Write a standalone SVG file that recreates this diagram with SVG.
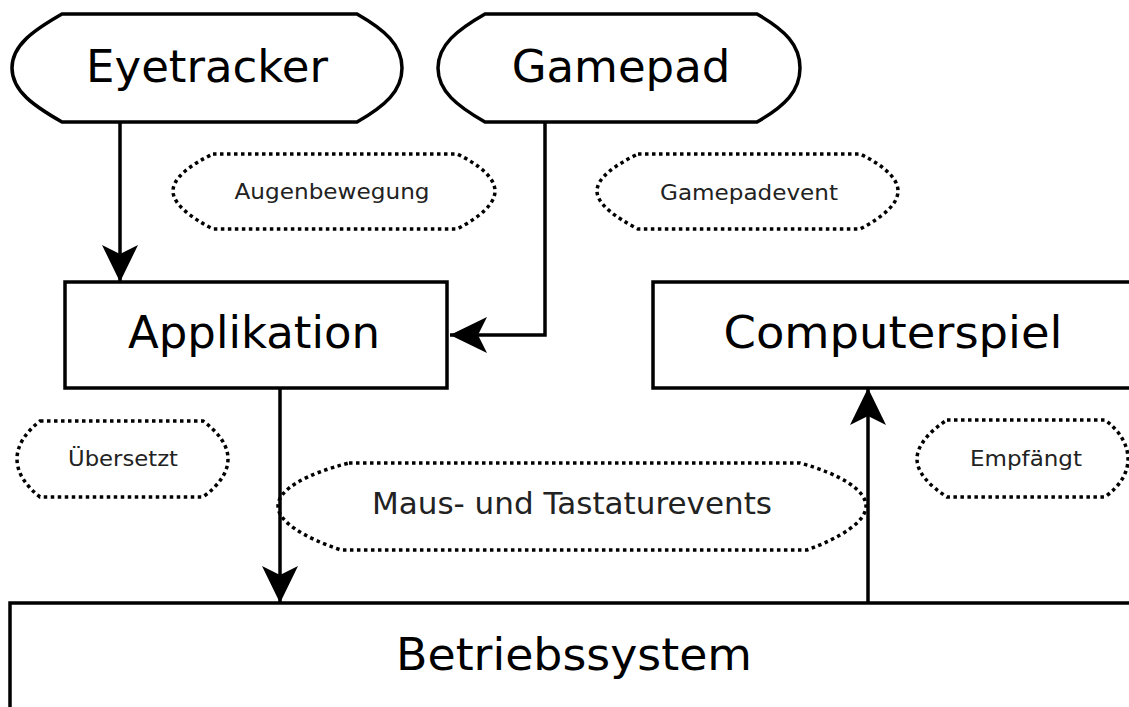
<svg xmlns="http://www.w3.org/2000/svg" width="1129" height="707" viewBox="0 0 1129 707">
  <style>
    .shape { fill: #fff; stroke: #000; stroke-width: 3.5; }
    .dotted { fill: none; stroke: #000; stroke-width: 3.5; stroke-dasharray: 3.5 3.5; }
    .big { font-family: "DejaVu Sans", sans-serif; font-size: 45px; fill: #000; text-anchor: middle; }
    .small { font-family: "DejaVu Sans", sans-serif; font-size: 22px; fill: #222; text-anchor: middle; }
    .mid { font-family: "DejaVu Sans", sans-serif; font-size: 30px; fill: #222; text-anchor: middle; }
    .conn { fill: none; stroke: #000; stroke-width: 3.5; }
  </style>
  <defs>
    <marker id="arrow" viewBox="-38 -20 40 40" markerWidth="40" markerHeight="40" refX="0" refY="0" orient="auto" markerUnits="userSpaceOnUse">
      <path d="M0,0 L-37,-18 L-28,0 L-37,18 Z" fill="#000"/>
    </marker>
  </defs>

  <rect width="1129" height="707" fill="#fff"/>

  <!-- Input devices -->
  <g id="eyetracker">
    <path class="shape" d="M62,14 L357,14 C385,30 402,45 402,68 C402,91 385,106 357,122 L62,122 C34,106 12,91 12,68 C12,45 34,30 62,14 Z"/>
    <text class="big" x="207" y="82">Eyetracker</text>
  </g>
  <g id="gamepad">
    <path class="shape" d="M485,14 L757,14 C785,30 800,45 800,68 C800,91 785,106 757,122 L485,122 C457,106 438,91 438,68 C438,45 457,30 485,14 Z"/>
    <text class="big" x="621" y="82">Gamepad</text>
  </g>

  <!-- Software layers -->
  <g id="applikation">
    <rect class="shape" x="65" y="282" width="382" height="106"/>
    <text class="big" x="254" y="348">Applikation</text>
  </g>
  <g id="computerspiel">
    <rect class="shape" x="653" y="282" width="490" height="106"/>
    <text class="big" x="893" y="348" textLength="339" lengthAdjust="spacingAndGlyphs">Computerspiel</text>
  </g>
  <g id="betriebssystem">
    <rect class="shape" x="10" y="603" width="1135" height="120"/>
    <text class="big" x="574" y="670" textLength="356" lengthAdjust="spacingAndGlyphs">Betriebssystem</text>
  </g>

  <!-- Connectors -->
  <g id="connectors">
    <path class="conn" d="M120,122 L120,282" marker-end="url(#arrow)"/>
    <path class="conn" d="M545,122 L545,335 L450,335" marker-end="url(#arrow)"/>
    <path class="conn" d="M280,388 L280,603" marker-end="url(#arrow)"/>
    <path class="conn" d="M868,603 L868,388" marker-end="url(#arrow)"/>
  </g>

  <!-- Dotted annotation labels -->
  <g id="augenbewegung">
    <path class="dotted" d="M213,154 L457,154 C480,165 495,178 495,191 C495,204 480,217 457,229 L213,229 C190,217 173,204 173,191 C173,178 190,165 213,154 Z"/>
    <text class="small" x="332" y="199" textLength="195" lengthAdjust="spacingAndGlyphs">Augenbewegung</text>
  </g>
  <g id="gamepadevent">
    <path class="dotted" d="M638,154 L860,154 C883,165 898,178 898,191 C898,204 883,217 860,229 L638,229 C615,217 597,204 597,191 C597,178 615,165 638,154 Z"/>
    <text class="small" x="749" y="200" textLength="178" lengthAdjust="spacingAndGlyphs">Gamepadevent</text>
  </g>
  <g id="uebersetzt">
    <path class="dotted" d="M40,421 L203,421 C218,432 228,445 228,459 C228,473 218,486 203,497 L40,497 C26,486 17,473 17,459 C17,445 26,432 40,421 Z"/>
    <text class="small" x="123" y="466" textLength="110" lengthAdjust="spacingAndGlyphs">Übersetzt</text>
  </g>
  <g id="maus-tastatur">
    <path class="dotted" d="M349,463 L800,463 C840,474 866,490 866,506 C866,522 840,538 807,550 L341,550 C305,538 278,522 278,506 C278,490 305,474 349,463 Z"/>
    <text class="mid" x="572" y="514" textLength="400" lengthAdjust="spacingAndGlyphs">Maus- und Tastaturevents</text>
  </g>
  <g id="empfaengt">
    <path class="dotted" d="M947,420 L1105,420 C1120,431 1128,445 1128,459 C1128,473 1120,486 1105,497 L947,497 C930,486 917,473 917,459 C917,445 930,431 947,420 Z"/>
    <text class="small" x="1026" y="466" textLength="112" lengthAdjust="spacingAndGlyphs">Empfängt</text>
  </g>
</svg>
